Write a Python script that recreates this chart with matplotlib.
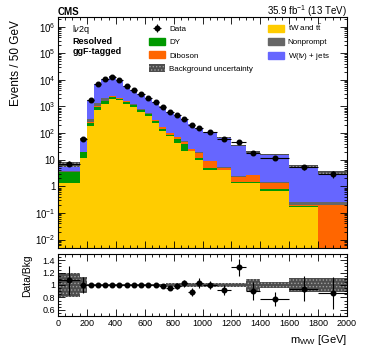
import numpy as np
import matplotlib
matplotlib.use('Agg')
import matplotlib.pyplot as plt
from matplotlib.ticker import MultipleLocator, LogLocator, FuncFormatter, NullFormatter, FixedLocator
from matplotlib.patches import Patch

plt.rcParams['font.family'] = ['Liberation Sans', 'DejaVu Sans']
plt.rcParams['mathtext.fontset'] = 'custom'
plt.rcParams['mathtext.rm'] = 'Liberation Sans'
plt.rcParams['mathtext.it'] = 'Liberation Sans:italic'
plt.rcParams['mathtext.bf'] = 'Liberation Sans:bold'
plt.rcParams['hatch.linewidth'] = 0.6

# bin edges in GeV
edges = [0, 150, 200, 250, 300, 350, 400, 450, 500, 550, 600, 650, 700, 750, 800,
         850, 900, 950, 1000, 1100, 1200, 1300, 1400, 1600, 1800, 2000]

# events / 50 GeV
data = [7.1, 58, 1700, 7100, 11000, 13300, 10000, 5900, 4200, 2950, 2100, 1480, 960,
        600, 470, 330, 195, 155, 108, 62, 45, 18, 12, 5.4, 2.9]

tw_tt = [1.35, 12, 180, 760, 1290, 1940, 1700, 1290, 960, 630, 430, 240, 124,
         76, 43, 22, 21, 9.6, 4.2, 4.2, 1.35, 1.35, 0.64, 0.16, 0]
dy = [2.15, 7, 60, 200, 290, 350, 250, 200, 150, 90, 80, 40, 24,
      12, 17, 17, 0.5, 2, 0.7, 0.05, 0.05, 0.05, 0.15, 0.02, 0]
diboson = [0.05, 0.3, 15, 40, 60, 120, 100, 60, 50, 35, 25, 18, 18,
           12, 9, 8, 3, 6.3, 3.8, 0.6, 0.8, 1.15, 0.55, 0.02, 0.2]
nonprompt = [0.3, 0.5, 85, 370, 460, 150, 80, 50, 30, 20, 10, 8, 5,
             3, 2, 2, 1, 1, 0.5, 0.3, 0.2, 0.1, 0.1, 0.05, 0.05]
wjets = [2.75, 38, 1360, 5730, 8900, 10740, 7870, 4300, 3010, 2175, 1555, 1174, 809,
         527, 409, 271, 194, 132, 99, 62, 32.6, 17.3, 14.1, 5.5, 3.05]

# relative background uncertainty
bkg_unc = [0.20, 0.13, 0.02, 0.015, 0.015, 0.015, 0.015, 0.015, 0.015, 0.015, 0.015, 0.02, 0.02,
           0.025, 0.03, 0.03, 0.03, 0.035, 0.03, 0.04, 0.04, 0.1, 0.05, 0.12, 0.12]

edges = np.array(edges, dtype=float)
centers = 0.5 * (edges[1:] + edges[:-1])
half = 0.5 * (edges[1:] - edges[:-1])
scale = (edges[1:] - edges[:-1]) / 50.0
data = np.array(data)
data_err = np.sqrt(data * scale) / scale

comps = [
    (np.array(tw_tt), '#ffcc00', r'tW and t$\bar{\mathrm{t}}$'),
    (np.array(dy), '#009900', 'DY'),
    (np.array(diboson), '#ff6600', 'Diboson'),
    (np.array(nonprompt), '#666666', 'Nonprompt'),
    (np.array(wjets), '#6666ff', r'W(l$\nu$) + jets'),
]
cums = np.cumsum([c[0] for c in comps], axis=0)
total = cums[-1]
unc = np.array(bkg_unc)

fig = plt.figure(figsize=(3.66, 3.51), dpi=100)
ax = fig.add_axes([58/366, 1 - 248/351, 289/366, 231/351])
rax = fig.add_axes([58/366, 1 - 316/351, 289/366, 62/351])

# stack: draw cumulative from top down
for i in range(len(comps) - 1, -1, -1):
    ax.stairs(np.maximum(cums[i], 1e-6), edges, baseline=1e-6, fill=True,
              color=comps[i][1], linewidth=0)

unc_kw = dict(fill=True, facecolor='#4d4d4d', edgecolor='#a0a0a0', hatch='.....', linewidth=0)
ax.stairs(total * (1 + unc), edges, baseline=total * (1 - unc), **unc_kw)

eb = ax.errorbar(centers, data, yerr=data_err, xerr=half, fmt='o', color='k',
                 ms=3.3, elinewidth=0.8, capsize=0)

ax.set_yscale('log')
ax.set_xlim(0, 2000)
ax.set_ylim(4.8e-3, 2.3e6)
ax.yaxis.set_major_locator(FixedLocator([1e-2, 1e-1, 1, 10, 1e2, 1e3, 1e4, 1e5, 1e6]))
ax.yaxis.set_minor_locator(LogLocator(base=10, subs=np.arange(2, 10), numticks=20))
ax.yaxis.set_minor_formatter(NullFormatter())

def log_fmt(v, pos):
    e = int(round(np.log10(v)))
    if e == 0:
        return '1'
    if e == 1:
        return '10'
    return r'$10^{%d}$' % e

ax.yaxis.set_major_formatter(FuncFormatter(log_fmt))
ax.xaxis.set_major_locator(MultipleLocator(200))
ax.xaxis.set_minor_locator(MultipleLocator(50))
ax.set_xticklabels([])

ax.set_ylabel('Events / 50 GeV', fontsize=8.5, loc='top')
ax.yaxis.set_label_coords(-0.125, 0.985)

ax.text(0.0, 1.01, 'CMS', transform=ax.transAxes, fontsize=7, fontweight='bold',
        ha='left', va='baseline')
ax.text(1.0, 1.01, r'35.9 fb$^{-1}$ (13 TeV)', transform=ax.transAxes, fontsize=7,
        ha='right', va='baseline')
ax.text(0.05, 0.975, r'l$\nu$2q', transform=ax.transAxes, fontsize=6.5, ha='left', va='top')
ax.text(0.05, 0.915, 'Resolved', transform=ax.transAxes, fontsize=6.5, fontweight='bold',
        ha='left', va='top')
ax.text(0.05, 0.872, 'ggF-tagged', transform=ax.transAxes, fontsize=6.5, fontweight='bold',
        ha='left', va='top')

handles = [eb,
           Patch(color=comps[1][1]), Patch(color=comps[2][1]),
           Patch(facecolor='#4d4d4d', edgecolor='#a0a0a0', hatch='.....', linewidth=0),
           Patch(color=comps[0][1]), Patch(color=comps[3][1]), Patch(color=comps[4][1])]
labels = ['Data', 'DY', 'Diboson', 'Background uncertainty',
          comps[0][2], 'Nonprompt', comps[4][2]]
ax.legend(handles, labels, ncol=2, loc='upper left', bbox_to_anchor=(0.315, 0.975),
          frameon=False, fontsize=5.8, handlelength=2.0, handleheight=1.0,
          handletextpad=0.5, labelspacing=0.6, columnspacing=1.8, borderpad=0,
          borderaxespad=0)

# ratio panel
ratio = data / total
ratio_err = data_err / total
rax.stairs(1 + unc, edges, baseline=1 - unc, **unc_kw)
rax.errorbar(centers, ratio, yerr=ratio_err, xerr=half, fmt='o', color='k',
             ms=3.3, elinewidth=0.8, capsize=0)
rax.set_xlim(0, 2000)
rax.set_ylim(0.5, 1.5)
rax.yaxis.set_major_locator(FixedLocator([0.6, 0.8, 1.0, 1.2, 1.4]))
rax.yaxis.set_minor_locator(MultipleLocator(0.05))
rax.yaxis.set_major_formatter(FuncFormatter(lambda v, p: '%g' % v))
rax.xaxis.set_major_locator(MultipleLocator(200))
rax.xaxis.set_minor_locator(MultipleLocator(50))
rax.set_ylabel('Data/Bkg', fontsize=7.5, loc='top')
rax.yaxis.set_label_coords(-0.09, 1.0)
rax.set_xlabel(r'm$_{\mathrm{WW}}$ [GeV]', fontsize=8, loc='right')
rax.xaxis.set_label_coords(1.0, -0.27)

for a in (ax, rax):
    a.tick_params(which='both', direction='in', top=True, right=True, width=0.6)
    a.tick_params(which='major', length=5, labelsize=7)
    a.tick_params(which='minor', length=2.5)
    for s in a.spines.values():
        s.set_linewidth(0.8)
rax.tick_params(which='major', labelsize=6.5, pad=2)
ax.tick_params(axis='y', which='major', pad=2)

fig.savefig('out.png', dpi=100)
